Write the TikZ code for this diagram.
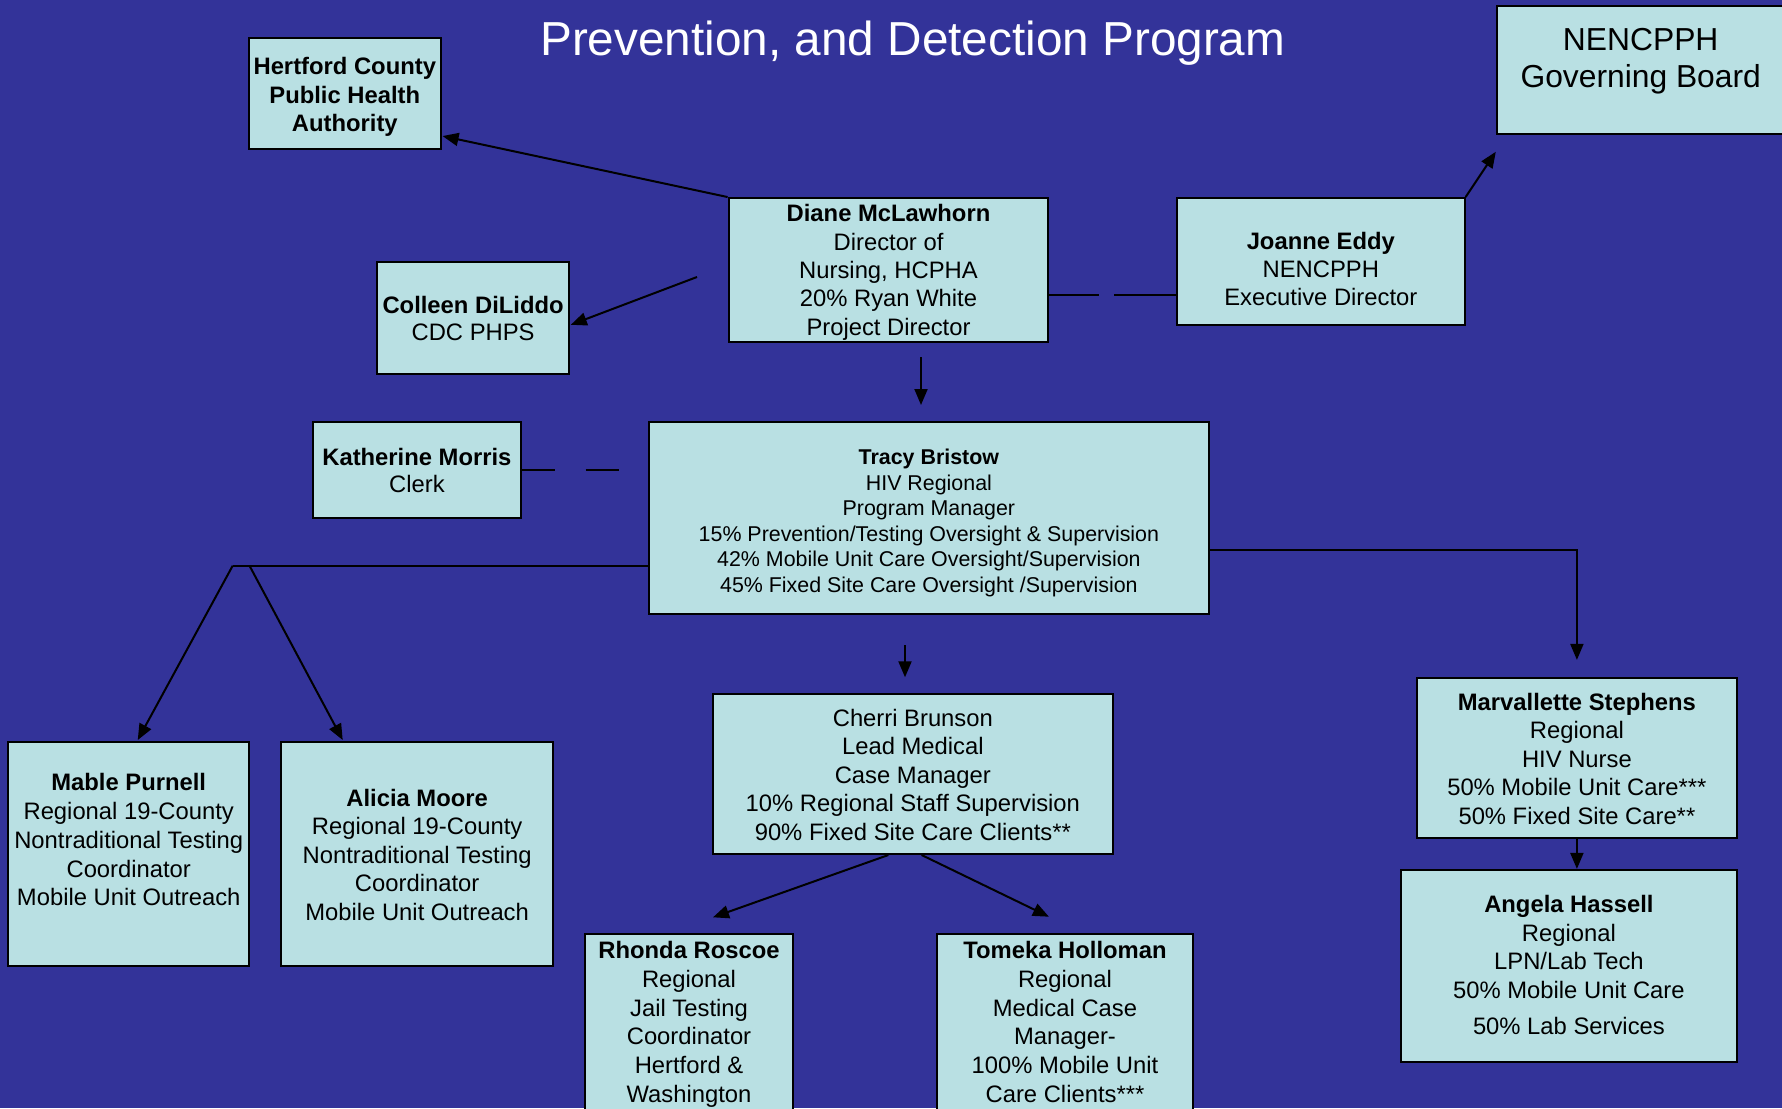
\documentclass[tikz,border=0pt]{standalone}
\usepackage{fontspec}
\setmainfont{Liberation Sans}
\usetikzlibrary{arrows.meta,calc}
\definecolor{bgblue}{HTML}{333399}
\definecolor{boxfill}{HTML}{B9E0E3}
\newcommand\fstrut{\rule{0pt}{0.8em}}
\begin{document}
\begin{tikzpicture}[x=1pt,y=-1pt,
  box/.style={draw=black,line width=2pt,fill=boxfill,rectangle,inner sep=0pt},
  txt/.style={inner sep=0pt,align=center,anchor=north,text=black,font=\fontsize{23.8pt}{#1}\selectfont},
  txt/.default=28.4pt,
  conn/.style={line width=2pt,draw=black},
  arr/.style={conn,-{Triangle[length=16pt,width=13pt]}}]
\useasboundingbox (0,0) rectangle (1782,1108);
\clip (0,0) rectangle (1782,1108);
\fill[bgblue] (0,0) rectangle (1782,1108);

\node[font=\fontsize{47.7pt}{55pt}\selectfont,text=white,anchor=base,inner sep=0pt] (title) at (912.8,56) {Prevention, and Detection Program};

\node[box,minimum width=191.5pt,minimum height=110.7pt] (hert) at (344.8,93.7) {};
\node[txt=28.85pt] (hertT) at (344.8,54.96) {\fstrut\textbf{Hertford County}\\\textbf{Public Health}\\\textbf{Authority}};

\node[box,minimum width=191.4pt,minimum height=111.5pt] (coll) at (473.1,317.8) {};
\node[txt=26.7pt] (collT) at (473.1,294.3) {\fstrut\textbf{Colleen DiLiddo}\\CDC PHPS};

\node[box,minimum width=319.8pt,minimum height=143.7pt] (diane) at (888.5,269.9) {};
\node[txt=28.3pt] (dianeT) at (888.5,202.7) {\fstrut\textbf{Diane McLawhorn}\\Director of\\Nursing, HCPHA\\20\% Ryan White\\Project Director};

\node[box,minimum width=287.6pt,minimum height=127.3pt] (joanne) at (1320.8,261.7) {};
\node[txt=28.2pt] (joanneT) at (1320.8,230.3) {\fstrut\textbf{Joanne Eddy}\\NENCPPH\\Executive Director};

\node[box,minimum width=287.8pt,minimum height=127.7pt] (nen) at (1640.7,69.9) {};
\node[txt,font=\fontsize{31.8pt}{37.3pt}\selectfont] (nenT) at (1640.7,24.56) {\fstrut NENCPPH\\Governing Board};

\node[box,minimum width=207.2pt,minimum height=96pt] (kath) at (416.9,469.7) {};
\node[txt=27.7pt] (kathT) at (416.9,446) {\fstrut\textbf{Katherine Morris}\\Clerk};

\node[box,minimum width=559.8pt,minimum height=192.3pt] (tracy) at (928.9,517.9) {};
\node[txt,font=\fontsize{21.4pt}{25.5pt}\selectfont] (tracyT) at (928.9,447.2) {\fstrut\textbf{Tracy Bristow}\\HIV Regional\\Program Manager\\15\% Prevention/Testing Oversight \& Supervision\\42\% Mobile Unit Care Oversight/Supervision\\45\% Fixed Site Care Oversight /Supervision};

\node[box,minimum width=240.7pt,minimum height=224pt] (mable) at (128.75,854) {};
\node[txt=28.75pt] (mableT) at (128.75,771.7) {\fstrut\textbf{Mable Purnell}\\Regional 19-County\\Nontraditional Testing\\Coordinator\\Mobile Unit Outreach};

\node[box,minimum width=272.5pt,minimum height=224pt] (alicia) at (417.15,854) {};
\node[txt=28.5pt] (aliciaT) at (417.15,787) {\fstrut\textbf{Alicia Moore}\\Regional 19-County\\Nontraditional Testing\\Coordinator\\Mobile Unit Outreach};

\node[box,minimum width=399.7pt,minimum height=160pt] (cherri) at (912.85,774) {};
\node[txt=28.5pt] (cherriT) at (912.85,707) {\fstrut Cherri Brunson\\Lead Medical\\Case Manager\\10\% Regional Staff Supervision\\90\% Fixed Site Care Clients**};

\node[box,minimum width=208pt,minimum height=196pt] (rhonda) at (689,1032) {};
\node[txt=28.8pt] (rhondaT) at (689,939.3) {\fstrut\textbf{Rhonda Roscoe}\\Regional\\Jail Testing\\Coordinator\\Hertford \&\\Washington};

\node[box,minimum width=255.4pt,minimum height=196pt] (tomeka) at (1065,1032) {};
\node[txt=28.8pt] (tomekaT) at (1065,939.3) {\fstrut\textbf{Tomeka Holloman}\\Regional\\Medical Case\\Manager-\\100\% Mobile Unit\\Care Clients***};

\node[box,minimum width=320.2pt,minimum height=159.4pt] (marv) at (1576.9,757.8) {};
\node[txt=28.5pt] (marvT) at (1576.9,690.8) {\fstrut\textbf{Marvallette Stephens}\\Regional\\HIV Nurse\\50\% Mobile Unit Care***\\50\% Fixed Site Care**};

\node[box,minimum width=336.2pt,minimum height=192.1pt] (angela) at (1568.9,965.95) {};
\node[txt=28.7pt] (angelaT) at (1568.9,893.2) {\fstrut\textbf{Angela Hassell}\\Regional\\LPN/Lab Tech\\50\% Mobile Unit Care\\[7.5pt]50\% Lab Services};

% connectors
\draw[arr] (diane.north west) -- ($(hert.south east)+(1,-14)$);
\coordinate (cl1) at (697,277);
\draw[arr] (cl1) -- ($(coll.east)+(1,7)$);
\draw[conn,dash pattern=on 50pt off 15pt on 100pt] ($(diane.south east)+(0,-47.7)$) -- ($(joanne.south west)+(0,-31.3)$);
\draw[arr] (joanne.north east) -- ($(nen.south west)+(0,17)$);
\coordinate (dt1) at (921,357);
\coordinate (dt2) at (921,405);
\draw[arr] (dt1) -- (dt2);
\draw[conn,dash pattern=on 33pt off 31pt on 33pt off 100pt] (kath.east) -- (kath.east -| tracy.west);
\coordinate (lj) at (232.7,565.7);
\coordinate (lj2) at (249.5,565.7);
\draw[conn] ($(tracy.west)+(0,47.8)$) -- (lj);
\draw[arr] (lj) -- ($(mable.north)+(9,-1)$);
\draw[arr] (lj2) -- ($(alicia.north west)+(62.8,-1)$);
\draw[arr] ($(tracy.east)+(0,32.1)$) -| ($(marv.north)+(0,-17.2)$);
\draw[arr] (marv.south) -- (marv.south |- angela.north);
\coordinate (tc1) at (905,645);
\coordinate (tc2) at (905,677.3);
\draw[arr] (tc1) -- (tc2);
\draw[arr] ($(cherri.south)+(-24.45,0)$) -- ($(rhonda.north)+(24,-15.7)$);
\draw[arr] ($(cherri.south)+(8.75,0)$) -- ($(tomeka.north)+(-16.1,-16.3)$);
\end{tikzpicture}
\end{document}
